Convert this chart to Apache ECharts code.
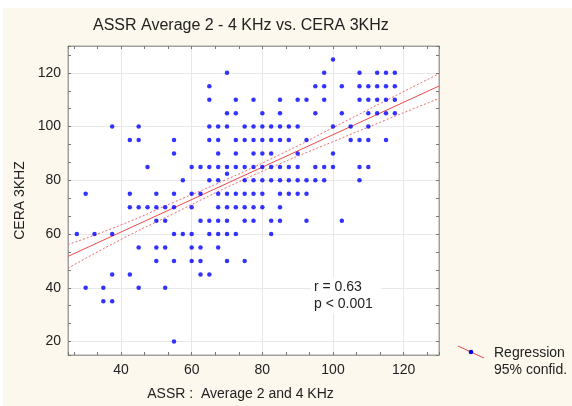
<!DOCTYPE html>
<html>
<head>
<meta charset="utf-8">
<script src="https://cdn.jsdelivr.net/npm/echarts@6/dist/echarts.min.js"></script>
<style>
html, body { margin: 0; padding: 0; background: #fff; }
#chart { width: 572px; height: 406px; }
</style>
</head>
<body>
<div id="chart"></div>
<script>
// CERA 3KHz level of each row of points
var ceraLevels = [125, 120, 115, 110, 105, 100, 95, 90, 85, 82.5, 80, 75, 70, 65, 60, 55, 50, 45, 40, 35, 20];
// ASSR averages found at each CERA level
var at125 = [100];
var at120 = [70, 97.5, 107.5, 112.5, 115, 117.5];
var at115 = [65, 95, 97.5, 102.5, 107.5, 110, 112.5, 115, 117.5];
var at110 = [65, 72.5, 77.5, 85, 90, 92.5, 97.5, 107.5, 110, 112.5, 115, 117.5];
var at105 = [70, 72.5, 80, 85, 95, 102.5, 110, 112.5, 115, 117.5];
var at100 = [37.5, 45, 65, 67.5, 70, 75, 77.5, 80, 82.5, 85, 87.5, 90, 100, 105, 110];
var at95 = [42.5, 45, 55, 65, 67.5, 72.5, 75, 77.5, 80, 82.5, 85, 87.5, 92.5, 105, 107.5, 110, 115];
var at90 = [55, 67.5, 72.5, 77.5, 80, 82.5, 90, 100];
var at85 = [47.5, 60, 62.5, 65, 67.5, 70, 72.5, 75, 77.5, 80, 82.5, 85, 87.5, 90, 95, 97.5, 100, 107.5, 110];
var at82 = [70];
var at80 = [57.5, 65, 67.5, 75, 77.5, 80, 82.5, 85, 87.5, 90, 92.5, 95, 97.5, 107.5];
var at75 = [30, 42.5, 50, 55, 60, 62.5, 67.5, 70, 72.5, 75, 77.5, 80, 85, 87.5, 90, 92.5];
var at70 = [42.5, 45, 47.5, 50, 52.5, 55, 60, 67.5, 70, 72.5, 75, 77.5, 80, 85];
var at65 = [50, 52.5, 62.5, 65, 67.5, 70, 75, 77.5, 82.5, 85, 92.5, 102.5];
var at60 = [27.5, 32.5, 37.5, 55, 57.5, 60, 65, 67.5, 70, 72.5, 82.5];
var at55 = [45, 50, 52.5, 60, 62.5, 67.5];
var at50 = [50, 55, 60, 62.5, 70, 75];
var at45 = [37.5, 42.5, 62.5, 65];
var at40 = [30, 35, 45, 52.5];
var at35 = [35, 37.5];
var at20 = [55];
var rows = [at125, at120, at115, at110, at105, at100, at95, at90, at85, at82, at80,
            at75, at70, at65, at60, at55, at50, at45, at40, at35, at20];

// regression line and 95% confidence band
var fitX = [25, 130];
var fitY = [51.7, 115.1];
var bandX = [25, 40, 55, 70, 85, 100, 115, 130];
var bandUp = [56.1, 63.4, 71.9, 80.4, 89.6, 99.6, 109.7, 119.7];
var bandLo = [47.3, 58.0, 67.7, 77.4, 86.2, 94.4, 102.5, 110.5];

var statText = 'r = 0.63\np < 0.001';

var points = [];
rows.forEach(function (xs, i) {
    xs.forEach(function (x) { points.push([x, ceraLevels[i]]); });
});
function pairs(xs, ys) {
    return xs.map(function (x, i) { return [x, ys[i]]; });
}

var chart = echarts.init(document.getElementById('chart'), null, { renderer: 'canvas' });
var font = 'Liberation Sans, Arial, sans-serif';
var tickCol = '#777';

function frameAxis(pos, min, max) {
    return {
        type: 'value', position: pos, min: min, max: max, splitNumber: 5,
        axisLine: { show: true, lineStyle: { color: '#a0a0a0' } },
        axisTick: { show: true, inside: true, length: 3, lineStyle: { color: tickCol } },
        minorTick: { show: true, splitNumber: 3, length: 3, lineStyle: { color: tickCol } },
        axisLabel: { show: false },
        splitLine: { show: false }
    };
}

var xMain = frameAxis('bottom', 25, 130);
xMain.axisLabel = { show: true, fontSize: 14, color: '#222', fontFamily: font, margin: 8, showMinLabel: false, showMaxLabel: false };
xMain.splitLine = { show: true, lineStyle: { color: '#e8e8e8' } };
xMain.name = 'ASSR :  Average 2 and 4 KHz';
xMain.nameLocation = 'middle';
xMain.nameGap = 32;
xMain.nameTextStyle = { fontSize: 14, color: '#222', fontFamily: font, padding: [0, 26, 0, 0] };

var yMain = frameAxis('left', 15, 130);
yMain.axisLabel = { show: true, fontSize: 14, color: '#222', fontFamily: font, margin: 7, showMinLabel: false, showMaxLabel: false };
yMain.splitLine = { show: true, lineStyle: { color: '#e8e8e8' } };
yMain.name = 'CERA 3KHZ';
yMain.nameLocation = 'middle';
yMain.nameGap = 40;
yMain.nameRotate = 90;
yMain.nameTextStyle = { fontSize: 14, color: '#222', fontFamily: font };

var bandStyle = { color: '#f26a6a', width: 1, type: [2, 2] };

chart.setOption({
    backgroundColor: '#fcf8ee',
    animation: false,
    title: {
        text: 'ASSR Average 2 - 4 KHz vs. CERA 3KHz',
        left: 88, top: 13,
        textStyle: { fontSize: 16, fontWeight: 'normal', color: '#222', fontFamily: font }
    },
    grid: {
        left: 68, right: 133, top: 46, bottom: 45,
        show: true, backgroundColor: '#ffffff', borderColor: '#a0a0a0', borderWidth: 1
    },
    xAxis: [xMain, frameAxis('top', 25, 130)],
    yAxis: [yMain, frameAxis('right', 15, 130)],
    series: [
        {
            type: 'line', data: pairs(bandX, bandUp), smooth: true, showSymbol: false,
            lineStyle: bandStyle, silent: true, z: 2
        },
        {
            type: 'line', data: pairs(bandX, bandLo), smooth: true, showSymbol: false,
            lineStyle: bandStyle, silent: true, z: 2
        },
        {
            type: 'line', data: pairs(fitX, fitY), showSymbol: false,
            lineStyle: { color: '#f04848', width: 1 }, silent: true, z: 2
        },
        {
            type: 'scatter', data: points, symbol: 'circle', symbolSize: 4.5,
            itemStyle: { color: '#0000ff' }, z: 3
        }
    ],
    graphic: [
        // white margin round the cream panel
        { type: 'rect', left: 0, top: 0, shape: { width: 572, height: 8 }, style: { fill: '#fff' } },
        { type: 'rect', left: 0, top: 0, shape: { width: 3, height: 406 }, style: { fill: '#fff' } },
        // statistics box
        { type: 'rect', left: 311, top: 277, z: 50, shape: { width: 70, height: 36 }, style: { fill: '#fff' } },
        {
            type: 'text', left: 314, top: 279, z: 51,
            style: { text: statText, font: '14px ' + font, fill: '#222', lineHeight: 17 }
        },
        // legend
        {
            type: 'line', z: 50, shape: { x1: 458, y1: 346, x2: 484, y2: 358 },
            style: { stroke: '#f04848', lineWidth: 1 }
        },
        { type: 'circle', z: 51, shape: { cx: 471, cy: 352, r: 2.3 }, style: { fill: '#0000ff' } },
        {
            type: 'text', left: 494, top: 345, z: 51,
            style: { text: 'Regression\n95% confid.', font: '14px ' + font, fill: '#222', lineHeight: 17 }
        }
    ]
});
</script>
</body>
</html>
